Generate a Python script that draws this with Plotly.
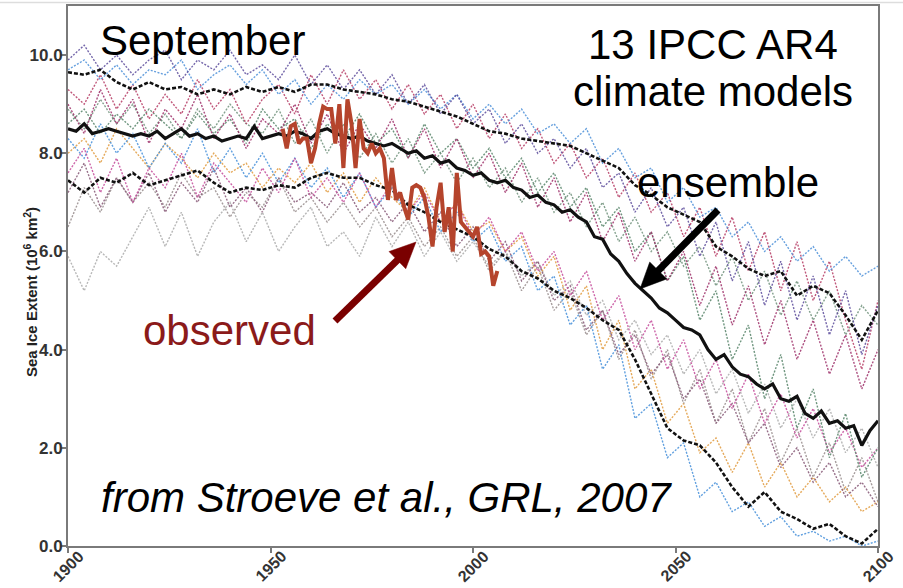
import plotly.graph_objects as go

# ---- data -----------------------------------------------------------------
years_model = list(range(1900, 2101, 4))
years_mean = list(range(1900, 2101, 2))
years_obs = list(range(1953, 2007))

model_purple = [9.9, 10.2, 9.7, 10.0, 9.6, 9.9, 10.1, 9.5, 9.9, 9.7,
                10.1, 9.6, 9.8, 9.5, 10.0, 9.4, 9.8, 9.3, 9.7, 9.2,
                9.6, 9.0, 9.4, 8.8, 9.2, 8.6, 8.9, 8.2, 8.6, 8.0,
                8.3, 7.7, 8.1, 7.3, 7.6, 6.8, 7.3, 6.5, 6.9, 5.9,
                6.6, 5.4, 6.2, 4.9, 5.8, 4.6, 5.5, 4.3, 5.2, 3.9, 4.9]
model_blue = [9.7, 9.9, 9.5, 9.8, 9.4, 9.7, 9.6, 9.9, 9.3, 9.6,
              9.8, 9.4, 9.7, 9.2, 9.5, 9.0, 9.4, 9.1, 9.5, 9.2,
              9.4, 9.0, 9.3, 8.9, 9.2, 8.7, 9.0, 8.6, 8.9, 8.4,
              8.6, 8.2, 8.5, 7.8, 8.1, 7.5, 7.7, 7.0, 7.3, 6.7,
              6.9, 6.3, 6.6, 6.0, 6.3, 5.8, 6.1, 5.6, 5.9, 5.5, 5.7]
model_crimson = [9.3, 9.0, 9.6, 8.9, 9.4, 8.7, 9.2, 8.8, 9.5, 8.9,
                 9.3, 8.6, 9.1, 9.4, 8.8, 9.6, 9.0, 9.7, 9.1, 9.5,
                 8.9, 9.4, 8.8, 9.2, 8.5, 9.0, 8.3, 8.8, 8.1, 8.5,
                 7.8, 8.2, 7.5, 7.9, 7.1, 7.6, 6.8, 7.2, 6.3, 6.9,
                 5.9, 6.7, 5.6, 6.4, 5.2, 6.2, 5.0, 5.8, 4.6, 3.6, 5.0]
model_green = [8.6, 8.9, 8.4, 8.8, 8.5, 8.9, 8.6, 8.3, 8.8, 8.4,
               8.7, 8.2, 8.9, 8.5, 8.7, 8.1, 8.6, 8.3, 8.8, 8.2,
               8.5, 7.9, 8.6, 8.0, 8.3, 7.7, 8.1, 7.5, 7.9, 7.2,
               7.6, 6.9, 7.3, 6.5, 6.9, 6.0, 6.4, 5.4, 5.9, 4.6,
               5.2, 3.8, 4.5, 3.0, 3.9, 2.4, 3.2, 1.8, 2.7, 1.4, 2.0]
model_orange = [8.0, 8.3, 7.8, 8.5, 8.1, 7.7, 8.2, 7.9, 7.5, 8.0,
                7.6, 7.8, 7.3, 7.7, 7.4, 7.8, 7.2, 7.6, 7.0, 7.5,
                7.1, 6.8, 7.3, 6.6, 7.0, 6.4, 6.6, 6.0, 6.3, 5.5,
                5.9, 4.8, 5.3, 4.0, 4.6, 3.2, 3.6, 2.5, 2.9, 1.9,
                2.2, 1.5, 2.1, 1.2, 1.7, 1.0, 1.4, 0.9, 1.2, 0.7, 0.9]
model_skyblue = [8.3, 7.9, 8.6, 8.0, 8.4, 7.7, 8.2, 7.8, 8.5, 7.6,
                 8.1, 7.5, 8.0, 7.4, 7.9, 7.3, 7.7, 7.1, 7.6, 6.9,
                 7.3, 6.7, 7.1, 6.4, 6.8, 6.2, 6.5, 5.8, 6.1, 5.2,
                 5.5, 4.5, 4.9, 3.6, 4.1, 2.6, 2.9, 1.8, 2.1, 1.0,
                 1.3, 0.7, 0.9, 0.4, 0.6, 0.2, 0.3, 0.1, 0.2, 0.0, 0.1]
model_pink = [7.6, 8.1, 7.2, 7.9, 7.0, 7.7, 7.3, 8.0, 7.1, 7.8,
              7.4, 7.0, 7.7, 7.2, 7.9, 7.1, 7.5, 7.0, 7.6, 6.9,
              7.4, 6.8, 7.2, 6.6, 7.0, 6.3, 6.7, 6.0, 6.4, 5.6,
              6.0, 5.1, 5.6, 4.6, 5.1, 4.0, 4.6, 3.6, 4.2, 3.2,
              3.8, 2.8, 3.5, 2.5, 3.1, 2.2, 2.8, 1.9, 2.4, 1.6, 2.0]
model_mauve = [7.2, 7.8, 6.9, 7.5, 7.0, 7.6, 6.8, 7.4, 7.0, 7.7,
               6.9, 7.3, 6.8, 7.5, 7.0, 7.2, 6.9, 7.4, 6.8, 7.1,
               6.6, 7.0, 6.4, 6.8, 6.1, 6.5, 5.8, 6.2, 5.4, 5.8,
               5.0, 5.3, 4.4, 4.8, 3.9, 4.3, 3.5, 3.9, 3.0, 3.4,
               2.5, 2.9, 2.1, 2.5, 1.6, 2.0, 1.3, 1.7, 1.0, 1.3, 0.8]
model_lightgrey = [5.9, 5.2, 6.0, 5.7, 6.3, 6.9, 6.1, 6.8, 5.9, 6.6,
                   7.0, 6.2, 6.8, 6.0, 6.5, 6.9, 6.1, 6.4, 5.9, 6.7,
                   6.1, 6.6, 5.9, 6.4, 5.8, 6.2, 5.7, 6.0, 5.5, 5.8,
                   5.1, 5.4, 4.7, 5.0, 4.2, 4.6, 3.9, 4.3, 3.5, 4.0,
                   3.1, 3.6, 2.7, 3.3, 2.4, 3.0, 2.2, 2.8, 1.9, 2.4, 1.6]
model_sage = [8.9, 8.5, 9.1, 8.6, 9.0, 8.4, 8.8, 8.3, 8.9, 8.5,
              9.0, 8.6, 8.4, 8.9, 8.2, 8.7, 8.0, 8.6, 7.9, 8.4,
              7.8, 8.3, 7.6, 8.0, 7.4, 7.9, 7.3, 7.7, 7.0, 7.5,
              6.8, 7.2, 6.5, 7.0, 6.2, 6.7, 6.0, 6.4, 5.7, 6.1,
              5.3, 5.9, 5.0, 5.6, 4.7, 5.4, 4.6, 5.2, 4.3, 4.9, 4.5]
model_grey = [6.5, 7.3, 6.8, 7.5, 7.0, 7.4, 6.9, 7.6, 7.1, 7.3,
              6.7, 7.2, 6.9, 7.5, 6.8, 7.1, 6.6, 7.0, 6.5, 6.9,
              6.3, 6.7, 6.1, 6.5, 5.9, 6.3, 5.6, 6.0, 5.2, 5.7,
              4.8, 5.2, 4.3, 4.8, 3.8, 4.4, 3.4, 4.0, 2.9, 3.6,
              2.5, 3.2, 2.1, 2.8, 1.7, 2.4, 1.4, 2.1, 1.1, 1.8, 0.9]
model_plum = [9.0, 8.4, 9.3, 8.6, 9.1, 8.2, 8.9, 8.5, 9.2, 8.3,
              8.8, 8.1, 8.7, 8.4, 9.0, 8.2, 8.8, 8.0, 8.6, 8.1,
              8.7, 7.9, 8.5, 7.7, 8.3, 7.5, 8.0, 7.2, 7.8, 6.9,
              7.5, 6.6, 7.2, 6.2, 6.8, 5.8, 6.4, 5.4, 6.0, 4.9,
              5.7, 4.5, 5.3, 4.1, 5.0, 3.8, 4.6, 3.5, 4.3, 3.2, 4.0]

dashed_upper = [9.65, 9.6, 9.7, 9.45, 9.3, 9.45, 9.3, 9.35, 9.2, 9.3,
                9.2, 9.35, 9.25, 9.35, 9.25, 9.4, 9.4, 9.3, 9.25, 9.2,
                9.1, 9.05, 8.95, 8.85, 8.75, 8.6, 8.45, 8.4, 8.3, 8.25,
                8.2, 8.15, 8.0, 7.85, 7.7, 7.35, 7.15, 6.9, 6.75, 6.6,
                6.1, 5.9, 5.65, 5.5, 5.6, 5.1, 5.3, 5.15, 4.7, 4.2, 4.8]
dashed_lower = [7.45, 7.2, 7.5, 7.4, 7.6, 7.35, 7.45, 7.55, 7.65, 7.4,
                7.2, 7.3, 7.25, 7.35, 7.3, 7.5, 7.6, 7.5, 7.5, 7.35,
                7.25, 6.95, 6.8, 6.6, 6.45, 6.3, 6.05, 5.9, 5.6, 5.45,
                5.2, 5.05, 4.85, 4.6, 4.4, 3.8, 3.1, 2.4, 2.15, 2.05,
                1.7, 1.2, 0.8, 1.1, 0.7, 0.55, 0.35, 0.45, 0.2, 0.05, 0.35]

ensemble_mean = [8.5, 8.45, 8.6, 8.4, 8.45, 8.5, 8.45, 8.4, 8.35, 8.4,
                 8.35, 8.45, 8.3, 8.4, 8.5, 8.35, 8.4, 8.3, 8.35, 8.25,
                 8.3, 8.35, 8.3, 8.55, 8.3, 8.35, 8.4, 8.35, 8.45, 8.4,
                 8.3, 8.45, 8.5, 8.4, 8.35, 8.3, 8.35, 8.25, 8.2, 8.15,
                 8.2, 8.1, 8.0, 8.05, 7.9, 7.95, 7.8, 7.85, 7.7, 7.65,
                 7.55, 7.6, 7.45, 7.4, 7.45, 7.3, 7.25, 7.1, 7.15, 7.0,
                 6.95, 6.8, 6.85, 6.7, 6.6, 6.3, 6.25, 5.95, 5.8, 5.55,
                 5.35, 5.2, 5.05, 4.85, 4.75, 4.6, 4.45, 4.4, 4.3, 4.0,
                 3.8, 3.9, 3.65, 3.5, 3.45, 3.3, 3.2, 3.3, 3.0, 2.95,
                 3.05, 2.7, 2.6, 2.75, 2.5, 2.55, 2.4, 2.45, 2.05, 2.35,
                 2.55]

observed = [8.5, 8.1, 8.55, 8.6, 8.2, 8.3, 8.3, 7.8, 8.1, 8.6,
            8.95, 8.9, 8.9, 8.2, 9.0, 7.7, 9.1, 8.6, 7.7, 8.7,
            8.1, 8.0, 8.2, 8.0, 8.1, 7.9, 7.05, 7.7, 7.05, 7.2,
            6.9, 6.65, 7.3, 7.35, 7.3, 7.1, 6.7, 6.1, 6.9, 7.4,
            6.4, 6.9, 6.0, 7.6, 6.6, 6.5, 6.4, 6.3, 6.5, 5.95,
            6.0, 5.9, 5.3, 5.6]

y_ticks = [0, 2, 4, 6, 8, 10]
y_tick_text = ["0.0", "2.0", "4.0", "6.0", "8.0", "10.0"]
x_ticks = [1900, 1950, 2000, 2050, 2100]
x_tick_text = ["1900", "1950", "2000", "2050", "2100"]

models = [
    (model_lightgrey, "rgba(170,170,170,0.85)"),
    (model_grey, "rgba(150,140,140,0.85)"),
    (model_orange, "rgba(226,160,72,0.9)"),
    (model_skyblue, "rgba(80,150,220,0.9)"),
    (model_mauve, "rgba(140,95,124,0.9)"),
    (model_pink, "rgba(196,74,154,0.85)"),
    (model_green, "rgba(94,138,112,0.9)"),
    (model_sage, "rgba(110,145,122,0.85)"),
    (model_plum, "rgba(158,47,104,0.85)"),
    (model_crimson, "rgba(181,58,99,0.85)"),
    (model_blue, "rgba(75,143,216,0.85)"),
    (model_purple, "rgba(92,75,155,0.85)"),
]

for arr, _ in models:
    assert len(arr) == len(years_model)
assert len(dashed_upper) == len(years_model)
assert len(dashed_lower) == len(years_model)
assert len(ensemble_mean) == len(years_mean)
assert len(observed) == len(years_obs)

FONT = "Arial, 'Liberation Sans', sans-serif"

fig = go.Figure()

for arr, col in models:
    fig.add_trace(go.Scatter(x=years_model, y=arr, mode="lines",
                             line=dict(color=col, width=1.4, dash="2px,1.5px"),
                             hoverinfo="skip", showlegend=False))

for arr in (dashed_upper, dashed_lower):
    fig.add_trace(go.Scatter(x=years_model, y=arr, mode="lines",
                             line=dict(color="#111111", width=2.6, dash="4px,2px"),
                             hoverinfo="skip", showlegend=False))

fig.add_trace(go.Scatter(x=years_mean, y=ensemble_mean, mode="lines",
                         line=dict(color="#111111", width=3.2),
                         hoverinfo="skip", showlegend=False))

fig.add_trace(go.Scatter(x=years_obs, y=observed, mode="lines",
                         line=dict(color="#b5442c", width=4),
                         hoverinfo="skip", showlegend=False))

L, R, T, B = 68, 25, 6, 42
W, H = 903, 588
PW, PH = W - L - R, H - T - B


def px(xp):
    return (xp - L) / PW


def py(yp):
    return (H - B - yp) / PH


big = dict(family=FONT, size=42, color="black")
texts = [
    ("September", 98, 40, "left", big),
    ("13 IPCC AR4", 713, 45, "center", big),
    ("climate models", 713, 92, "center", big),
    ("ensemble", 728, 182, "center", big),
    ("observed", 229, 330, "center", dict(family=FONT, size=42, color="#8b1a1a")),
    ("<i>from Stroeve et al., GRL, 2007</i>", 386, 497, "center", big),
]
for txt, x0, y0, anc, f in texts:
    fig.add_annotation(text=txt, x=px(x0), y=py(y0), xref="paper", yref="paper",
                       xanchor=anc, yanchor="middle", showarrow=False, font=f)

fig.add_annotation(text="Sea Ice Extent (10<sup>6</sup> km<sup>2</sup>)",
                   x=px(30), y=py(292), xref="paper", yref="paper",
                   xanchor="center", yanchor="middle",
                   textangle=-90, showarrow=False,
                   font=dict(family=FONT, size=15, color="#222", weight="bold"))

# year labels: rotated about their centre, sitting just under each tick
tick_font = dict(family=FONT, size=17, color="#333333", weight="bold")
year_font = dict(family=FONT, size=16, color="#333333", weight="bold")
for xv, lab in zip(x_ticks, x_tick_text):
    fig.add_annotation(text=lab, x=xv, y=py(566), xref="x", yref="paper",
                       xanchor="center", yanchor="middle", textangle=-45,
                       showarrow=False, font=year_font)


def arrow_shapes(x_tail, y_tail, x_tip, y_tip, color, width=7, head_len=26, head_half=12):
    """Thick arrow drawn as a shaft line plus a filled triangular head (pixel coords)."""
    dx, dy = x_tip - x_tail, y_tip - y_tail
    n = (dx * dx + dy * dy) ** 0.5
    ux, uy = dx / n, dy / n
    bx, by = x_tip - ux * head_len, y_tip - uy * head_len
    nx, ny = -uy, ux
    fig.add_shape(type="line", xref="paper", yref="paper",
                  x0=px(x_tail), y0=py(y_tail), x1=px(bx + ux * 2), y1=py(by + uy * 2),
                  line=dict(color=color, width=width))
    pts = [(x_tip, y_tip), (bx + nx * head_half, by + ny * head_half),
           (bx - nx * head_half, by - ny * head_half)]
    path = "M " + " L ".join(f"{px(a):.5f},{py(b):.5f}" for a, b in pts) + " Z"
    fig.add_shape(type="path", xref="paper", yref="paper", path=path,
                  fillcolor=color, line=dict(color=color, width=0.5))


arrow_shapes(718, 210, 640, 289, "#000000")
arrow_shapes(335, 321, 416, 242, "#7a0000")

fig.add_shape(type="line", xref="paper", yref="paper",
              x0=px(0), x1=px(W), y0=py(2.5), y1=py(2.5),
              line=dict(color="#dddddd", width=1.5))

axis_common = dict(showgrid=False, zeroline=False, showline=True, mirror=True,
                   linecolor="#7a7a7a", linewidth=2, ticks="outside",
                   ticklen=5, tickwidth=1.5, tickcolor="#7a7a7a", automargin=False,
                   tickfont=tick_font)

fig.update_xaxes(range=[1900, 2100], tickvals=x_ticks, showticklabels=False,
                 **axis_common)
fig.update_yaxes(range=[0, 11], tickvals=y_ticks, ticktext=y_tick_text,
                 ticklabelstandoff=-5, **axis_common)

fig.update_layout(width=W, height=H, margin=dict(l=L, r=R, t=T, b=B),
                  paper_bgcolor="white", plot_bgcolor="white")

fig.write_html("out.html")
